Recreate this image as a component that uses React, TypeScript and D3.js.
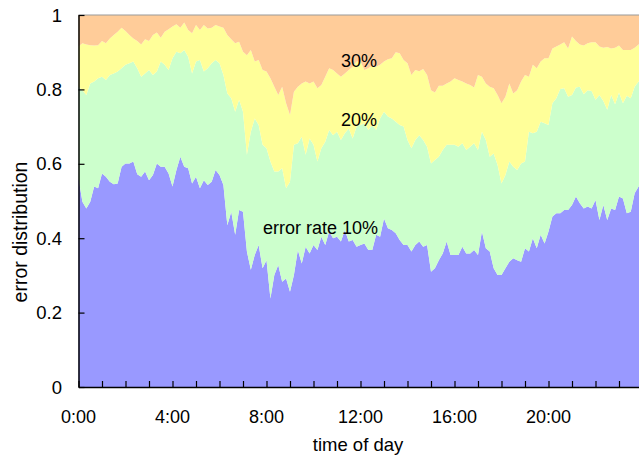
import { useEffect, useRef } from 'react';
import { select, scaleLinear, area, range, axisBottom, axisLeft } from 'd3';

// share of requests below each error rate, sampled every 10 minutes from 0:00 to 24:00
const under10 = [
  0.561, 0.498, 0.48, 0.498, 0.539, 0.534, 0.574, 0.565, 0.552, 0.545, 0.547, 0.592,
  0.601, 0.601, 0.606, 0.572, 0.565, 0.579, 0.556, 0.57, 0.601, 0.592, 0.592, 0.574,
  0.539, 0.583, 0.619, 0.592, 0.588, 0.547, 0.565, 0.534, 0.556, 0.543, 0.552, 0.583,
  0.57, 0.543, 0.435, 0.471, 0.409, 0.476, 0.471, 0.364, 0.315, 0.355, 0.382, 0.319,
  0.341, 0.238, 0.301, 0.328, 0.283, 0.292, 0.256, 0.301, 0.368, 0.332, 0.377, 0.359,
  0.382, 0.368, 0.404, 0.382, 0.418, 0.4, 0.404, 0.391, 0.422, 0.391, 0.395, 0.377,
  0.382, 0.386, 0.368, 0.368, 0.409, 0.404, 0.453, 0.427, 0.422, 0.413, 0.395, 0.382,
  0.382, 0.364, 0.382, 0.391, 0.377, 0.382, 0.31, 0.319, 0.341, 0.359, 0.391, 0.355,
  0.355, 0.355, 0.377, 0.359, 0.359, 0.368, 0.355, 0.418, 0.373, 0.364, 0.319, 0.301,
  0.301, 0.319, 0.337, 0.346, 0.341, 0.337, 0.373, 0.364, 0.4, 0.373, 0.409, 0.386,
  0.418, 0.458, 0.467, 0.467, 0.476, 0.476, 0.489, 0.512, 0.494, 0.48, 0.485, 0.48,
  0.503, 0.449, 0.489, 0.449, 0.48, 0.476, 0.512, 0.507, 0.467, 0.471, 0.521, 0.539,
  0.55,
];

const under20 = [
  0.807, 0.798, 0.785, 0.816, 0.821, 0.83, 0.834, 0.825, 0.839, 0.843, 0.848, 0.857,
  0.866, 0.87, 0.875, 0.857, 0.834, 0.843, 0.852, 0.839, 0.848, 0.875, 0.866, 0.852,
  0.884, 0.901, 0.897, 0.906, 0.888, 0.843, 0.875, 0.879, 0.848, 0.857, 0.87, 0.879,
  0.87, 0.839, 0.789, 0.776, 0.74, 0.772, 0.74, 0.624, 0.686, 0.722, 0.704, 0.651,
  0.642, 0.606, 0.579, 0.579, 0.588, 0.534, 0.552, 0.651, 0.655, 0.673, 0.624, 0.668,
  0.651, 0.606, 0.642, 0.659, 0.691, 0.677, 0.686, 0.664, 0.682, 0.695, 0.668, 0.7,
  0.704, 0.709, 0.691, 0.704, 0.691, 0.722, 0.74, 0.727, 0.722, 0.713, 0.704, 0.7,
  0.664, 0.642, 0.664, 0.677, 0.664, 0.646, 0.601, 0.61, 0.619, 0.637, 0.651, 0.651,
  0.651, 0.646, 0.655, 0.637, 0.646, 0.655, 0.637, 0.686, 0.664, 0.619, 0.628, 0.597,
  0.547, 0.57, 0.606, 0.592, 0.583, 0.601, 0.606, 0.686, 0.682, 0.686, 0.713, 0.709,
  0.704, 0.763, 0.776, 0.801, 0.803, 0.78, 0.785, 0.805, 0.807, 0.787, 0.798, 0.796,
  0.772, 0.785, 0.769, 0.745, 0.785, 0.76, 0.792, 0.763, 0.783, 0.776, 0.807, 0.821,
  0.825,
];

const under30 = [
  0.915, 0.924, 0.921, 0.919, 0.918, 0.919, 0.93, 0.924, 0.937, 0.946, 0.955, 0.966,
  0.957, 0.946, 0.937, 0.93, 0.921, 0.935, 0.93, 0.946, 0.953, 0.939, 0.955, 0.962,
  0.969, 0.975, 0.966, 0.98, 0.96, 0.951, 0.973, 0.96, 0.973, 0.964, 0.966, 0.973,
  0.969, 0.966, 0.946, 0.935, 0.924, 0.928, 0.901, 0.892, 0.906, 0.875, 0.879, 0.852,
  0.848, 0.83, 0.807, 0.785, 0.807, 0.763, 0.731, 0.794, 0.807, 0.816, 0.821, 0.816,
  0.821, 0.803, 0.812, 0.834, 0.857, 0.852, 0.843, 0.834, 0.843, 0.852, 0.861, 0.875,
  0.875, 0.852, 0.857, 0.864, 0.861, 0.866, 0.875, 0.881, 0.884, 0.9, 0.897, 0.879,
  0.87, 0.839, 0.852, 0.849, 0.855, 0.839, 0.798, 0.792, 0.81, 0.81, 0.816, 0.821,
  0.83, 0.825, 0.821, 0.816, 0.812, 0.805, 0.839, 0.834, 0.816, 0.807, 0.803, 0.785,
  0.763, 0.78, 0.816, 0.789, 0.798, 0.821, 0.839, 0.834, 0.866, 0.857, 0.875, 0.884,
  0.884, 0.91, 0.915, 0.921, 0.927, 0.91, 0.942, 0.93, 0.921, 0.918, 0.924, 0.927,
  0.927, 0.915, 0.912, 0.914, 0.91, 0.912, 0.918, 0.906, 0.906, 0.906, 0.912, 0.921,
  0.925,
];

const hourLabels = ['0:00', '4:00', '8:00', '12:00', '16:00', '20:00'];
const yTicks = [0, 0.2, 0.4, 0.6, 0.8, 1];

const width = 639;
const height = 456;
const margin = { top: 15, left: 78.5, bottom: 69 };
const font = '"Liberation Sans", Arial, sans-serif';

const App = () => {
  const svgRef = useRef<SVGSVGElement>(null);

  useEffect(() => {
    if (!svgRef.current) return;
    const svg = select(svgRef.current);
    svg.selectAll('*').remove();

    // full day is 564px wide, so 24:00 falls just past the right edge
    const x = scaleLinear().domain([0, 24]).range([margin.left, margin.left + 564]);
    const y = scaleLinear().domain([0, 1]).range([height - margin.bottom, margin.top]);

    const rows = under10.map((d, i) => ({
      t: i / 6,
      b10: d,
      b20: under20[i],
      b30: under30[i],
    }));

    const layers: Array<{ lo: (d: any) => number; hi: (d: any) => number; fill: string }> = [
      { lo: () => 0, hi: (d) => d.b10, fill: '#9999ff' },
      { lo: (d) => d.b10, hi: (d) => d.b20, fill: '#ccffcc' },
      { lo: (d) => d.b20, hi: (d) => d.b30, fill: '#ffff99' },
      { lo: (d) => d.b30, hi: () => 1, fill: '#ffcc99' },
    ];

    layers.forEach((l) => {
      const shape = area<any>()
        .x((d) => x(d.t))
        .y0((d) => y(l.lo(d)))
        .y1((d) => y(l.hi(d)));
      svg.append('path').datum(rows).attr('d', shape).attr('fill', l.fill);
    });

    svg
      .append('line')
      .attr('x1', x(0))
      .attr('x2', width)
      .attr('y1', y(1))
      .attr('y2', y(1))
      .attr('stroke', '#999')
      .attr('stroke-width', 1);

    const xAxis = svg
      .append('g')
      .attr('transform', `translate(0,${y(0)})`)
      .call(
        axisBottom(x)
          .tickValues(range(0, 24, 1))
          .tickSize(-6)
          .tickSizeOuter(0)
          .tickFormat(() => ''),
      );
    xAxis.select('.domain').attr('stroke', '#000').attr('stroke-width', 1.5);
    xAxis.selectAll('.tick line').attr('stroke', '#000').attr('stroke-width', 1.2);

    svg
      .append('g')
      .selectAll('text')
      .data(hourLabels)
      .join('text')
      .attr('x', (_, i) => x(i * 4))
      .attr('y', 423)
      .attr('text-anchor', 'middle')
      .attr('font-family', font)
      .attr('font-size', 18)
      .text((d) => d);

    const yAxis = svg
      .append('g')
      .attr('transform', `translate(${x(0)},0)`)
      .call(axisLeft(y).tickValues(yTicks).tickSize(-6).tickSizeOuter(0).tickFormat(() => ''));
    yAxis.select('.domain').attr('stroke', '#000').attr('stroke-width', 1.5);
    yAxis.selectAll('.tick line').attr('stroke', '#000').attr('stroke-width', 1.2);

    svg
      .append('g')
      .selectAll('text')
      .data(yTicks)
      .join('text')
      .attr('x', 62)
      .attr('y', (d) => y(d))
      .attr('dy', '0.36em')
      .attr('text-anchor', 'end')
      .attr('font-family', font)
      .attr('font-size', 18.5)
      .text((d) => String(d));

    svg
      .append('text')
      .attr('x', 358)
      .attr('y', 451)
      .attr('text-anchor', 'middle')
      .attr('font-family', font)
      .attr('font-size', 18.5)
      .text('time of day');

    // the title sits a little below the middle of the axis
    svg
      .append('text')
      .attr('transform', `translate(27,232) rotate(-90)`)
      .attr('text-anchor', 'middle')
      .attr('font-family', font)
      .attr('font-size', 19.5)
      .text('error distribution');

    const notes = [
      { text: '30%', x: 341, y: 67, anchor: 'start' },
      { text: '20%', x: 341, y: 126, anchor: 'start' },
      { text: 'error rate 10%', x: 378, y: 234, anchor: 'end' },
    ];
    svg
      .append('g')
      .selectAll('text')
      .data(notes)
      .join('text')
      .attr('x', (d) => d.x)
      .attr('y', (d) => d.y)
      .attr('text-anchor', (d) => d.anchor)
      .attr('font-family', font)
      .attr('font-size', 18)
      .text((d) => d.text);
  }, []);

  return (
    <svg
      ref={svgRef}
      width={width}
      height={height}
      style={{ position: 'absolute', left: 0, top: 0, background: '#fff' }}
    />
  );
};

export default App;
